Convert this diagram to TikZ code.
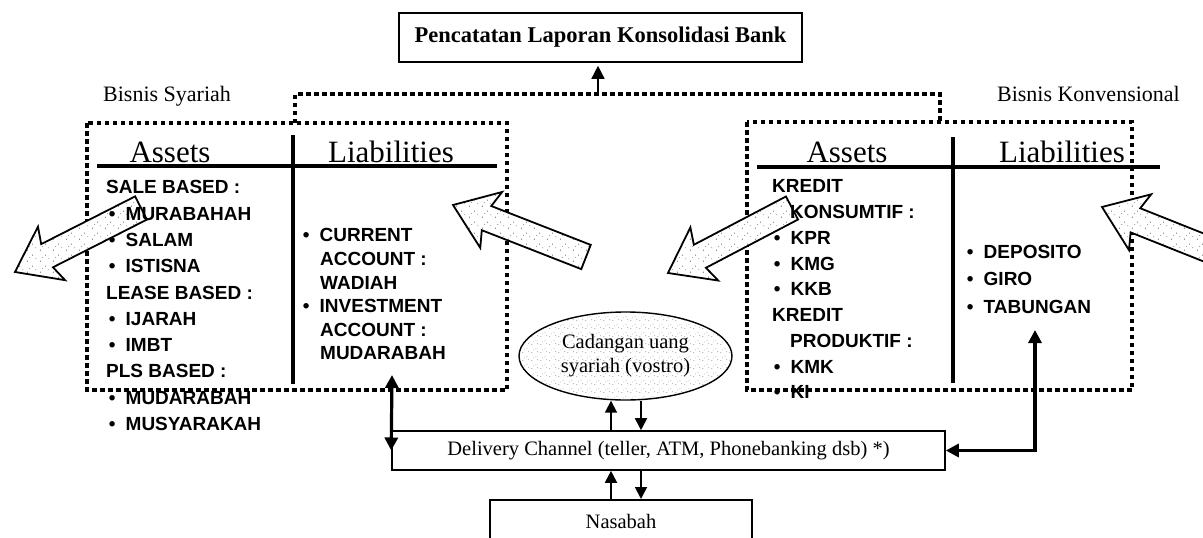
\documentclass[tikz,border=0pt]{standalone}
\usepackage{fontspec}
\setmainfont{Liberation Serif}
\newfontfamily\listfont{Liberation Sans}
\usetikzlibrary{calc,arrows.meta,patterns.meta,shapes.geometric}

% sparse grain used inside the block arrows
\tikzdeclarepattern{
  name=stipple, type=uncolored,
  bottom left={(0pt,0pt)}, top right={(13pt,11pt)}, tile size={(13pt,11pt)},
  code={
    \fill (1.5pt,2pt) circle (0.55pt);
    \fill (7pt,8.5pt) circle (0.5pt);
    \fill (10.5pt,4.5pt) circle (0.45pt);
    \fill (4pt,6pt) circle (0.35pt);
  }}
% slightly denser grain for the reserve ellipse
\tikzdeclarepattern{
  name=grain, type=uncolored,
  bottom left={(0pt,0pt)}, top right={(9pt,8pt)}, tile size={(9pt,8pt)},
  code={
    \fill (1pt,1.5pt) circle (0.45pt);
    \fill (5.5pt,6pt) circle (0.4pt);
    \fill (7.5pt,2.5pt) circle (0.35pt);
    \fill (3pt,4.5pt) circle (0.3pt);
  }}

\tikzset{
  dotline/.style={line width=3.6pt, dash pattern=on 4.5pt off 3.5pt},
  tbar/.style={line width=3.6pt},
  plainbox/.style={draw, line width=1.6pt, inner sep=0pt, fill=white},
  bigarrow/.style={draw, line width=1.8pt, line join=miter, fill=white,
    postaction={pattern=stipple, pattern color=black!75}},
  lst/.style={font=\listfont\bfseries\fontsize{19}{19}\selectfont, anchor=base west, inner sep=0pt},
  serif/.style={font=\fontsize{20.5}{24}\selectfont},
  heading/.style={font=\fontsize{31}{31}\selectfont, anchor=base, inner sep=0pt},
  conn/.style={line width=1.8pt, -{Triangle[length=12pt,width=12pt]}},
  biconn/.style={line width=3.2pt, {Triangle[length=13pt,width=13pt]}-{Triangle[length=13pt,width=13pt]}},
  uparrow/.style={line width=1.5pt, -{Triangle[length=13pt,width=13pt]}, shorten >=3pt},
}

% bullet followed by its item text
\newcommand\itm[1]{\makebox[16.8pt][l]{•}#1}

% hollow block arrow: name, tail centre, tip
\newcommand\bigarrow[3]{%
  \coordinate (#1-t) at (#2);
  \coordinate (#1-p) at (#3);
  \coordinate (#1-b) at ($(#1-p)!36pt!(#1-t)$);
  \coordinate (#1-c) at ($(#1-p)!41pt!(#1-t)$);
  \draw[bigarrow] ($(#1-t)!13pt!90:(#1-p)$) -- ($(#1-b)!13pt!90:(#1-p)$)
    -- ($(#1-c)!30pt!90:(#1-p)$) -- (#1-p) -- ($(#1-c)!30pt!-90:(#1-p)$)
    -- ($(#1-b)!13pt!-90:(#1-p)$) -- ($(#1-t)!13pt!-90:(#1-p)$) -- cycle;
}

\begin{document}
\begin{tikzpicture}[x=1pt, y=-1pt]
\useasboundingbox (0,0) rectangle (1203,538);

% consolidated reporting box
\node[plainbox, minimum width=403pt, minimum height=49pt,
      font=\bfseries\fontsize{22.5}{26}\selectfont] (title) at (600.5,37.5)
      {Pencatatan Laporan Konsolidasi Bank};

% business line labels
\node[anchor=base west, inner sep=0pt, font=\fontsize{22}{26}\selectfont] (syr) at (103,101) {Bisnis Syariah};
\node[anchor=base east, inner sep=0pt, font=\fontsize{22}{26}\selectfont] (konv) at (1180,101) {Bisnis Konvensional};

% dotted frames and their link to the top box
\draw[dotline] (87,123) rectangle (507,390);
\draw[dotline] (747,122) rectangle (1132,390);
\draw[dotline] (295,123) -- (295,94) -- (940,94) -- (940,122);
\coordinate (topjoin) at (598,94);
\draw[uparrow] (topjoin) -- (topjoin |- title.south);

% balance sheet T-accounts
\draw[tbar] (97,166) -- (497,166);
\draw[tbar] (293,135) -- (293,384);
\draw[tbar] (757,167) -- (1160,167);
\draw[tbar] (953,137) -- (953,383);
\node[heading] (asL) at (170,162) {Assets};
\node[heading] (liL) at (391,162) {Liabilities};
\node[heading] (asR) at (847,162) {Assets};
\node[heading] (liR) at (1062,162) {Liabilities};

% flows of funds
\bigarrow{arA}{141,208}{15,272}
\bigarrow{arB}{586,257}{453,205}
\bigarrow{arC}{792,208}{668,273}
\bigarrow{arD}{1245,264}{1102,207}

% syariah assets
\foreach \x/\y/\t [count=\i] in {
  106/193.8/{SALE BASED :}, 108.7/220.1/{\itm{MURABAHAH}}, 108.7/246.4/{\itm{SALAM}},
  108.7/272.7/{\itm{ISTISNA}}, 106/299.0/{LEASE BASED :}, 108.7/325.3/{\itm{IJARAH}},
  108.7/351.6/{\itm{IMBT}}, 106/377.9/{PLS BASED :}, 108.7/404.2/{\itm{MUDARABAH}},
  108.7/430.5/{\itm{MUSYARAKAH}}}
  \node[lst] (sa\i) at (\x,\y) {\t};

% syariah liabilities
\foreach \x/\y/\t [count=\i] in {
  302.7/241.8/{\itm{CURRENT}}, 320/265.4/{ACCOUNT :}, 320/289.0/{WADIAH},
  302.7/312.6/{\itm{INVESTMENT}}, 320/336.2/{ACCOUNT :}, 320/359.8/{MUDARABAH}}
  \node[lst] (sl\i) at (\x,\y) {\t};

% conventional assets
\foreach \x/\y/\t [count=\i] in {
  772/192.8/{KREDIT}, 790/218.55/{KONSUMTIF :}, 773.7/244.3/{\itm{KPR}},
  773.7/270.05/{\itm{KMG}}, 773.7/295.8/{\itm{KKB}}, 772/321.55/{KREDIT},
  790/347.3/{PRODUKTIF :}, 773.7/373.05/{\itm{KMK}}, 773.7/398.8/{\itm{KI}}}
  \node[lst] (ka\i) at (\x,\y) {\t};

% conventional liabilities
\foreach \y/\t [count=\i] in {258.8/DEPOSITO, 285.8/GIRO, 313.8/TABUNGAN}
  \node[lst] (kl\i) at (966.7,\y) {\itm{\t}};

% reserve account, channels and customers
\node[ellipse, draw, line width=1.4pt, minimum width=213pt, minimum height=88pt,
      inner sep=0pt, fill=white, postaction={pattern=grain, pattern color=black!70},
      align=center, serif] (cad) at (625.5,356) {Cadangan uang\\syariah (vostro)};
\node[plainbox, minimum width=553pt, minimum height=39pt, serif] (deliv) at (668.5,450.5)
      {Delivery Channel (teller, ATM, Phonebanking dsb) *)};
\node[plainbox, minimum width=262pt, minimum height=44pt, anchor=north, serif] (nas) at (621,499)
      {Nasabah};

\coordinate (upx) at (611,0);
\coordinate (dnx) at (641,0);
\draw[conn] (upx |- deliv.north) -- (upx |- cad.south);
\draw[conn] (dnx |- cad.south) -- (dnx |- deliv.north);
\draw[conn] (upx |- nas.north) -- (upx |- deliv.south);
\draw[conn] (dnx |- deliv.south) -- (dnx |- nas.north);

\coordinate (liabL) at (392,375);
\draw[biconn] (liabL) -- (deliv.west);
\coordinate (liabR) at (1035,330);
\draw[biconn] (liabR) -- (liabR |- deliv.east) -- (deliv.east);
\end{tikzpicture}
\end{document}
